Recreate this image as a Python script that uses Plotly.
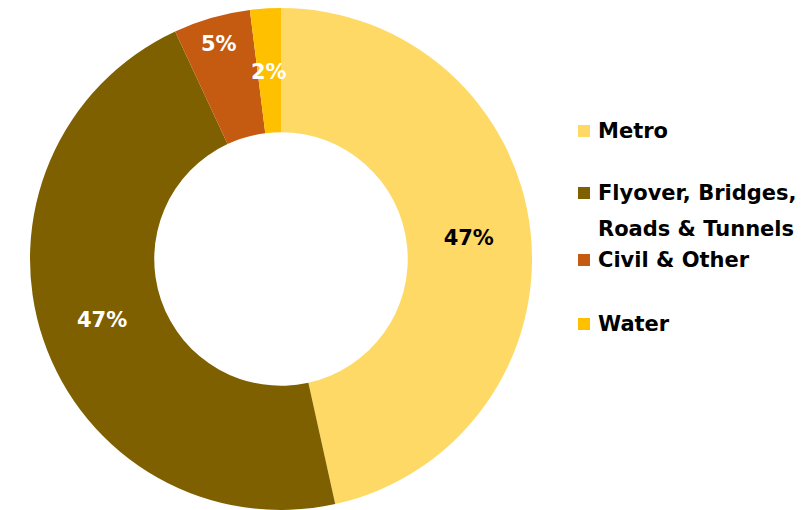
import math
import plotly.graph_objects as go

# Share of order book by segment (percent)
segments = ["Metro", "Flyover, Bridges,<br>Roads & Tunnels", "Civil & Other", "Water"]
legend_lines = [["Metro"], ["Flyover, Bridges,", "Roads & Tunnels"], ["Civil & Other"], ["Water"]]
shares = [47, 47, 5, 2]
colors = ["#FFD966", "#7F6000", "#C55A11", "#FFC000"]
text_colors = ["#000000", "#FFFFFF", "#FFFFFF", "#FFFFFF"]

W, H = 803, 510
cx, cy, r = 281, 259, 251
HOLE = 0.505
LABEL_FONT = dict(family="DejaVu Sans", size=21, weight="bold")

# Narrow slices get their label placed by hand at this fraction of the radius
outer_label_radius = {2: 0.89, 3: 0.745}

fig = go.Figure(go.Pie(
    labels=segments,
    values=shares,
    hole=HOLE,
    sort=False,
    direction="clockwise",
    rotation=0,
    marker=dict(colors=colors, line=dict(width=0)),
    texttemplate=["" if i in outer_label_radius else "%{value}%" for i in range(len(shares))],
    textposition="inside",
    insidetextorientation="horizontal",
    textfont=dict(color=text_colors, **LABEL_FONT),
    showlegend=False,
    domain=dict(x=[(cx - r) / W, (cx + r) / W], y=[0, (2 * r) / H]),
))

annotations, shapes = [], []

# Labels for the narrow slices, at each slice's mid angle
total = sum(shares)
cum = 0
for i, v in enumerate(shares):
    if i in outer_label_radius:
        ang = math.radians((cum + v / 2) / total * 360)
        rr = r * outer_label_radius[i]
        px = cx + rr * math.sin(ang)
        py = cy - rr * math.cos(ang)
        annotations.append(dict(text=f"{v}%", xref="paper", yref="paper",
                                x=px / W, y=1 - py / H, xanchor="center", yanchor="middle",
                                showarrow=False, font=dict(color=text_colors[i], **LABEL_FONT)))
    cum += v

# Legend drawn as squares + labels on the right
legend_y = [131, 193, 260, 324]
for lines, color, y in zip(legend_lines, colors, legend_y):
    shapes.append(dict(type="rect", xref="paper", yref="paper",
                       x0=578 / W, x1=590 / W, y0=1 - (y + 6) / H, y1=1 - (y - 6) / H,
                       fillcolor=color, line=dict(width=0)))
    for i, line in enumerate(lines):
        annotations.append(dict(text=line, xref="paper", yref="paper",
                                x=596 / W, y=1 - (y + i * 36) / H,
                                xanchor="left", yanchor="middle", showarrow=False,
                                font=dict(family="DejaVu Sans", size=21, color="#000000", weight="bold")))

fig.update_layout(
    width=W, height=H,
    margin=dict(l=0, r=0, t=0, b=0),
    paper_bgcolor="white",
    plot_bgcolor="white",
    uniformtext=dict(minsize=21, mode="show"),
    shapes=shapes,
    annotations=annotations,
)

fig.write_html("out.html")
